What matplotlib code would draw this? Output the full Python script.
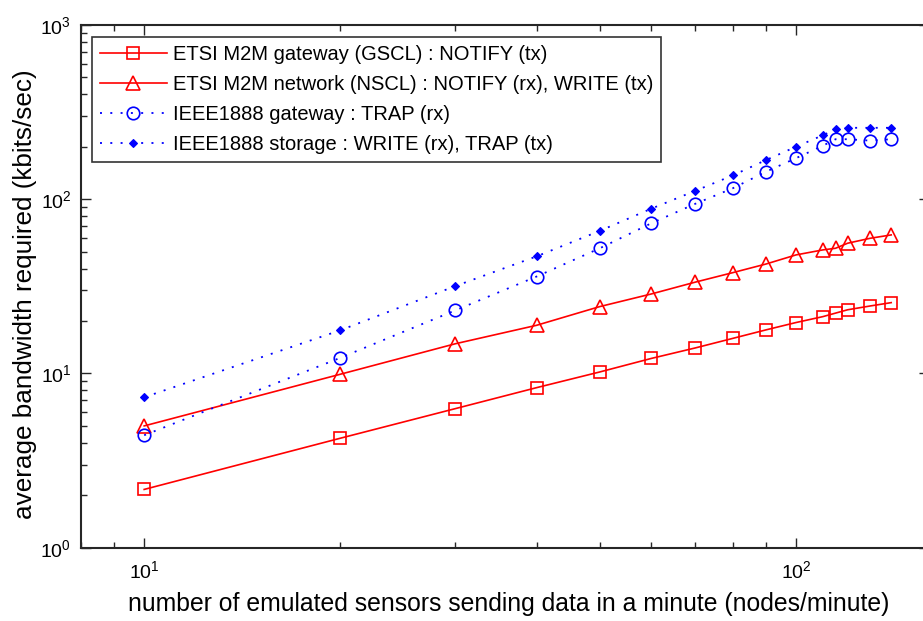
import matplotlib
matplotlib.use("Agg")
import matplotlib.pyplot as plt
from matplotlib.ticker import LogLocator, LogFormatterMathtext, NullFormatter

plt.rcParams['font.family'] = ['Liberation Sans', 'DejaVu Sans']
plt.rcParams['mathtext.fontset'] = 'custom'
plt.rcParams['mathtext.rm'] = 'Liberation Sans'
plt.rcParams['mathtext.it'] = 'Liberation Sans'

# sensors per minute
nodes = [10, 20, 30, 40, 50, 60, 70, 80, 90, 100, 110, 115, 120, 130, 140]

# bandwidth (kbits/sec)
gscl_notify_tx = [2.16, 4.25, 6.28, 8.29, 10.2, 12.2, 14.0, 15.9, 17.8, 19.6, 21.2, 22.2, 23.2, 24.4, 25.5]
nscl_notify_write = [5.0, 9.9, 14.8, 18.9, 24.2, 28.6, 33.4, 37.9, 42.5, 47.9, 51.2, 52.3, 55.9, 59.7, 62.4]
ieee_gw_trap_rx = [4.42, 12.3, 23.0, 36.0, 52.3, 72.8, 94.0, 115.6, 144, 172, 203, 221, 221, 217, 221]
ieee_storage_write_trap = [7.3, 17.7, 31.7, 47.0, 65.8, 88.3, 111.6, 137, 168, 200, 233, 252, 257, 257, 257]

labels = [
    "ETSI M2M gateway (GSCL) : NOTIFY (tx)",
    "ETSI M2M network (NSCL) : NOTIFY (rx), WRITE (tx)",
    "IEEE1888 gateway : TRAP (rx)",
    "IEEE1888 storage : WRITE (rx), TRAP (tx)",
]

fig = plt.figure(figsize=(9.23, 6.21), dpi=100)
ax = fig.add_axes([81 / 923, 1 - 547.7 / 621, 848 / 923, (547.7 - 25) / 621])

red = "#ff0000"
blue = "#0000ff"
dots = (0, (1.1, 4.6))

ax.plot(nodes, gscl_notify_tx, color=red, lw=1.2, marker="s", ms=9,
        mfc="none", mec=red, mew=1.2, label=labels[0])
ax.plot(nodes, nscl_notify_write, color=red, lw=1.2, marker="^", ms=9.5,
        mfc="none", mec=red, mew=1.2, label=labels[1])
ax.plot(nodes, ieee_gw_trap_rx, color=blue, lw=1.3, ls=dots, marker="o", ms=9,
        mfc="none", mec=blue, mew=1.2, label=labels[2])
ax.plot(nodes, ieee_storage_write_trap, color=blue, lw=1.3, ls=dots, marker="D", ms=4,
        mfc=blue, mec=blue, mew=0.8, label=labels[3])

ax.set_xscale("log")
ax.set_yscale("log")
ax.set_xlim(8, 160)
ax.set_ylim(1, 1000)

for axis in (ax.xaxis, ax.yaxis):
    axis.set_major_locator(LogLocator(base=10))
    axis.set_minor_locator(LogLocator(base=10, subs=range(2, 10)))
    axis.set_major_formatter(LogFormatterMathtext())
    axis.set_minor_formatter(NullFormatter())

ax.tick_params(which="both", direction="in", top=True, right=True, colors="#262626",
               labelcolor="black", labelsize=14)
ax.tick_params(which="major", length=7, width=1.0)
ax.tick_params(which="minor", length=4.5, width=1.0)
ax.tick_params(axis="x", pad=9)
ax.tick_params(axis="y", pad=7)
for s in ax.spines.values():
    s.set_linewidth(1.5)
    s.set_color("#262626")

ax.set_xlabel("number of emulated sensors sending data in a minute (nodes/minute)",
              fontsize=17.8)
ax.xaxis.set_label_coords(0.504, -0.085)
ax.set_ylabel("average bandwidth required (kbits/sec)", fontsize=18.8)
ax.yaxis.set_label_coords(-0.052, 0.485)

leg = ax.legend(loc="upper left", bbox_to_anchor=((92 - 81) / 848, 1 - (37 - 25) / 522.7),
                fontsize=14.5, frameon=True, fancybox=False, edgecolor="black",
                handlelength=3.3, handletextpad=0.3, borderpad=0.4, labelspacing=0.55,
                borderaxespad=0)
leg.get_frame().set_linewidth(1.2)

fig.savefig("out.png", dpi=100)
